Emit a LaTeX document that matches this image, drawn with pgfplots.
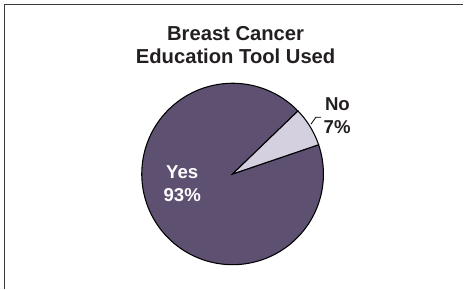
\documentclass[border=0pt]{standalone}
\usepackage{fontspec}
\setmainfont{Liberation Sans}
\usepackage{pgfplots}
\pgfplotsset{compat=1.18}
\definecolor{yescol}{HTML}{5E5070}
\definecolor{nocol}{HTML}{D4D0E0}
\definecolor{txt}{HTML}{231F20}
\definecolor{frame}{HTML}{3A3A3A}
% data (percent)
\def\pYes{93}
\def\pNo{7}
\def\startang{18.8}
\pgfmathsetmacro{\noend}{\startang+\pNo*3.6}
\pgfmathsetmacro{\yesend}{\noend+\pYes*3.6}
\def\cx{233}
\def\cy{174.5}
\def\rr{91}
\begin{document}
\begin{tikzpicture}
\begin{axis}[
  scale only axis, width=348pt, height=217.5pt,
  xmin=0, xmax=464, ymin=0, ymax=290, y dir=reverse,
  hide axis, clip=false,
]
\addplot[draw=none] coordinates {(0,0) (464,290)};
% frame (top and left only)
\addplot[frame, line width=1.2pt] coordinates {(464,4.5) (4.5,4.5) (4.5,290)};
% Yes slice
\addplot[fill=yescol, draw=black, line width=0.8pt, domain=\noend:\yesend, samples=150, variable=\t]
  ({\cx+\rr*cos(\t)}, {\cy-\rr*sin(\t)}) -- (axis cs:\cx,\cy) -- cycle;
% No slice
\addplot[fill=nocol, draw=black, line width=0.8pt, domain=\startang:\noend, samples=30, variable=\t]
  ({\cx+\rr*cos(\t)}, {\cy-\rr*sin(\t)}) -- (axis cs:\cx,\cy) -- cycle;
% leader line for No
\addplot[black, line width=0.6pt] coordinates {(311.5,124.5) (316.5,117.5) (321.5,117.5)};
% title
\node[anchor=base, text=txt, font=\fontsize{15.2}{16}\selectfont\bfseries] at (axis cs:236,41) {Breast Cancer};
\node[anchor=base, text=txt, font=\fontsize{15.2}{16}\selectfont\bfseries] at (axis cs:236,63.3) {Education Tool Used};
% labels
\node[anchor=base, text=white, font=\fontsize{14}{15}\selectfont\bfseries] at (axis cs:182.5,179) {Yes};
\node[anchor=base, text=white, font=\fontsize{14}{15}\selectfont\bfseries] at (axis cs:182.5,202) {93\%};
\node[anchor=base, text=txt, font=\fontsize{14}{15}\selectfont\bfseries] at (axis cs:338,111) {No};
\node[anchor=base, text=txt, font=\fontsize{14}{15}\selectfont\bfseries] at (axis cs:337.7,134) {7\%};
\end{axis}
\end{tikzpicture}
\end{document}
